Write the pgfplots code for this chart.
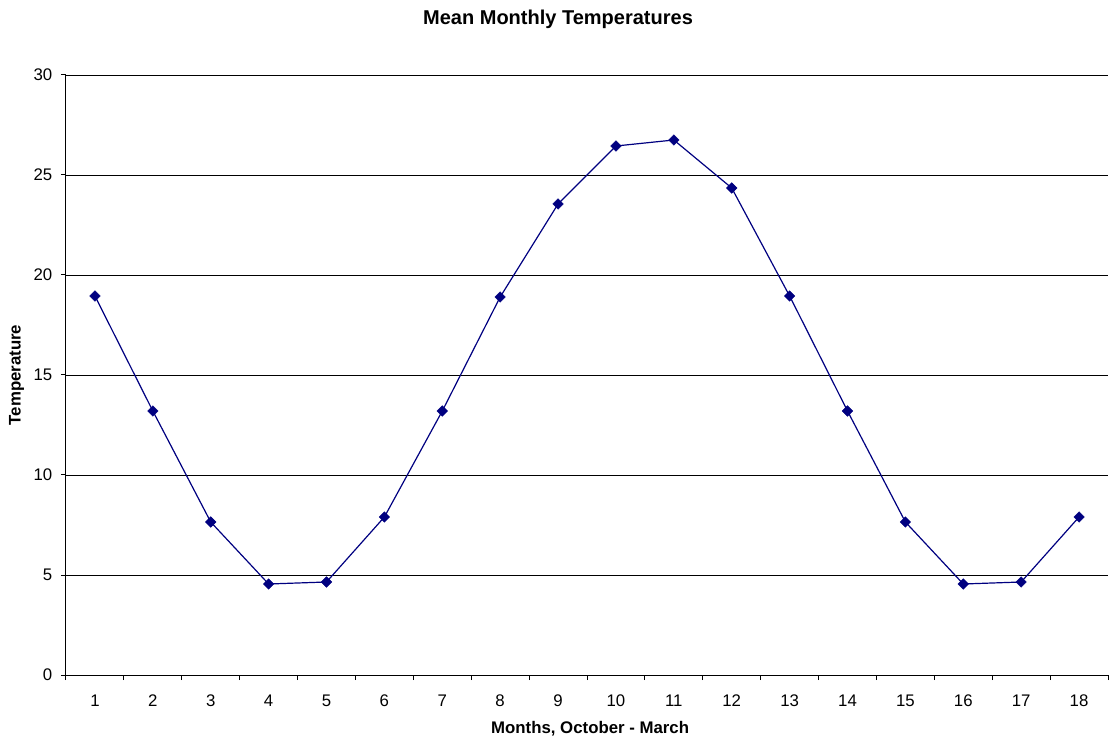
\documentclass[border=0pt]{standalone}
\usepackage{fontspec}
\setmainfont{Liberation Sans}
\usepackage{pgfplots}
\pgfplotsset{compat=1.18}
\definecolor{navyline}{HTML}{000080}
\begin{document}
\begin{tikzpicture}
\path (-49.5pt,-48pt) rectangle (783pt,506.25pt);
\begin{axis}[
  at={(0,0)}, anchor=origin,
  width=781.5pt, height=450pt, scale only axis,
  xmin=0.5, xmax=18.5, ymin=0, ymax=30,
  axis lines=left, axis line style={-, line width=0.75pt},
  xtick={1,...,18},
  major x tick style={draw=none},
  minor xtick={0.5,1.5,...,18.5},
  minor x tick style={black, line width=0.75pt},
  minor tick length=3.75pt,
  ytick={0,5,...,30},
  major tick length=3.75pt,
  tick align=outside,
  y tick style={black, line width=0.75pt},
  ymajorgrids, grid style={black, line width=0.6pt},
  /pgf/number format/assume math mode=true,
  tick label style={font=\fontsize{12.6}{14}\selectfont},
  x tick label style={anchor=north, yshift=-7.5pt},
  y tick label style={anchor=east, xshift=-3pt},
  title={Mean Monthly Temperatures},
  title style={at={(axis description cs:0.4722,1)}, anchor=center, yshift=36pt, font=\fontsize{15}{17}\selectfont\bfseries},
  xlabel={Months, October - March},
  xlabel style={at={(axis description cs:0.503,0)}, anchor=center, yshift=-40pt, font=\fontsize{12.6}{14}\selectfont\bfseries},
  ylabel={Temperature},
  ylabel style={at={(axis description cs:0,0.5)}, anchor=center, yshift=37pt, font=\fontsize{12.6}{14}\selectfont\bfseries},
]
\addplot[color=navyline, line width=0.9pt, mark=square*, mark size=2.8pt, mark options={rotate=45, fill=navyline, draw=navyline, line width=0.3pt}] coordinates {
(1,18.95) (2,13.2) (3,7.65) (4,4.55) (5,4.65) (6,7.9)
(7,13.2) (8,18.9) (9,23.55) (10,26.45) (11,26.75) (12,24.35)
(13,18.95) (14,13.2) (15,7.65) (16,4.55) (17,4.65) (18,7.9)
};
\end{axis}
\end{tikzpicture}
\end{document}
